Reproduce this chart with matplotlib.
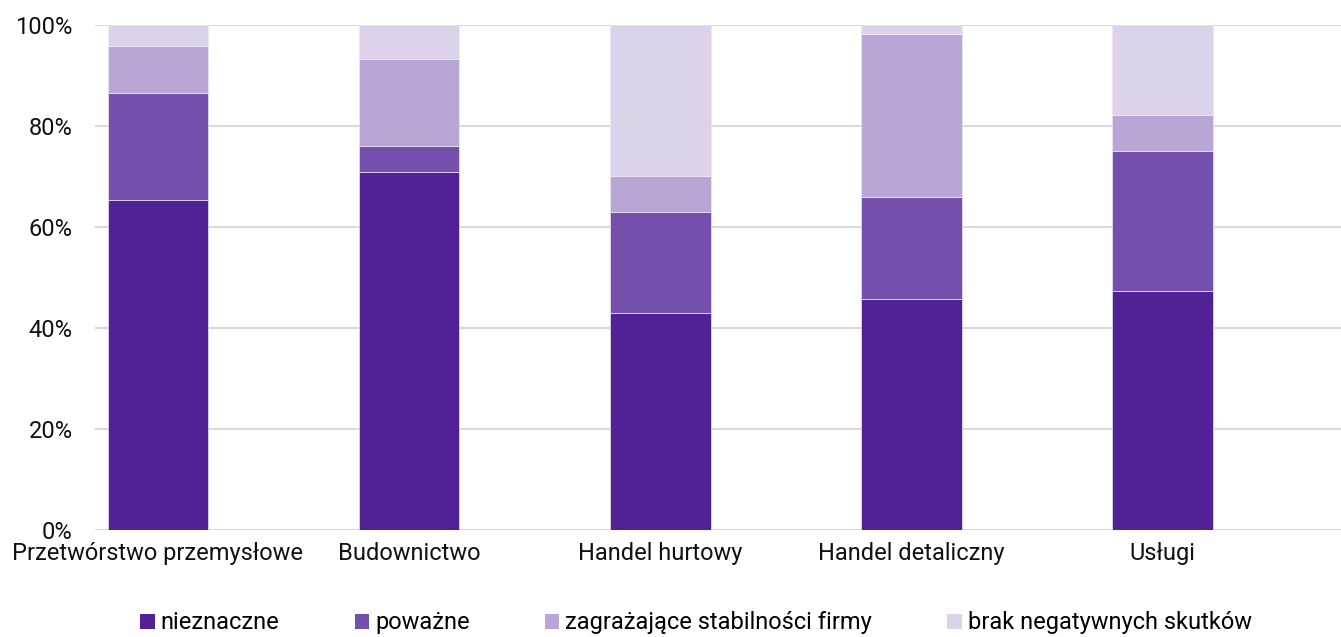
import matplotlib
matplotlib.use("Agg")
import matplotlib.pyplot as plt
import numpy as np
from matplotlib.patches import Patch

plt.rcParams['font.family'] = ['Roboto', 'DejaVu Sans']

categories = ["Przetwórstwo przemysłowe", "Budownictwo", "Handel hurtowy",
              "Handel detaliczny", "Usługi"]
series_names = ["nieznaczne", "poważne", "zagrażające stabilności firmy",
                "brak negatywnych skutków"]
nieznaczne = [65.3, 70.9, 43.0, 45.8, 47.4]
powazne = [21.2, 5.1, 20.0, 20.1, 27.7]
zagrazajace = [9.4, 17.3, 7.2, 32.4, 7.1]
brak = [4.1, 6.7, 29.8, 1.7, 17.8]
colors = ["#512295", "#7450ac", "#b8a7d6", "#dcd3ea"]

fig = plt.figure(figsize=(13.41, 6.37), dpi=100)
ax = fig.add_axes([0.0708, 0.168, 0.9292, 0.7927])

x = np.arange(len(categories))
bottom = np.zeros(len(categories))
for vals, col in zip([nieznaczne, powazne, zagrazajace, brak], colors):
    ax.bar(x, vals, width=0.4, bottom=bottom, color=col, edgecolor="#ece7f4",
           linewidth=0.5, zorder=3)
    bottom += np.array(vals)

ax.set_ylim(0, 100)
ax.set_xlim(-0.251, 4.71)
ax.set_yticks(np.arange(0, 101, 20))
ax.set_yticklabels([f"{v}%" for v in range(0, 101, 20)])
ax.set_xticks(x)
ax.set_xticklabels(categories)
ax.tick_params(axis="both", length=0, labelsize=17, colors="#111111")
ax.tick_params(axis="y", pad=16)
ax.tick_params(axis="x", pad=9)
ax.yaxis.grid(True, color="#d9d9d9", linewidth=1.5, zorder=0)
for s in ax.spines.values():
    s.set_visible(False)

handles = [Patch(facecolor=c, edgecolor="none") for c in colors]
fig.legend(handles, series_names, loc="center", bbox_to_anchor=(0.519, 0.022),
           ncol=4, frameon=False, fontsize=17, handlelength=0.6,
           handleheight=0.6, handletextpad=0.25, columnspacing=3.2)

fig.savefig("out.png", dpi=100)
